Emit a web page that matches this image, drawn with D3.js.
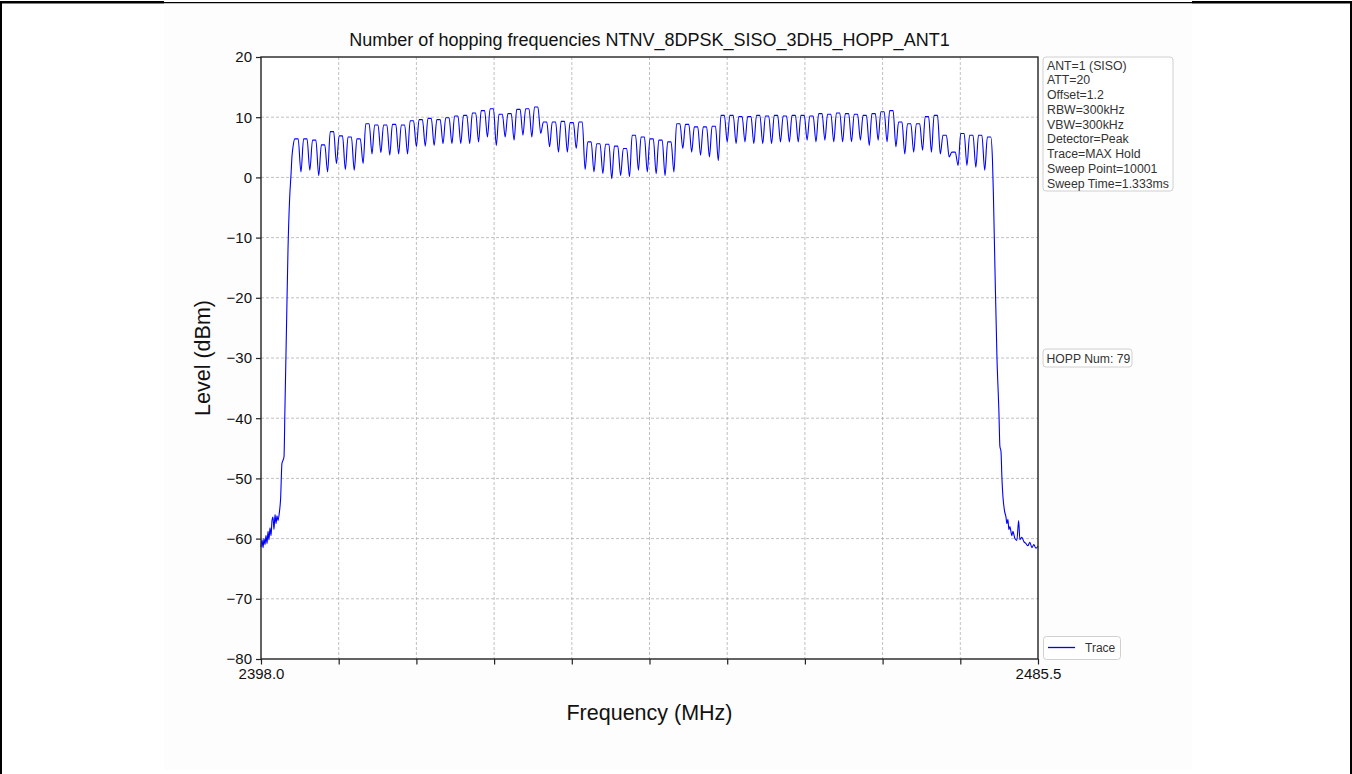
<!DOCTYPE html>
<html><head><meta charset="utf-8">
<script src="https://cdn.jsdelivr.net/npm/d3@7"></script>
<style>
html,body{margin:0;padding:0;background:#fff;}
svg{display:block;font-family:"Liberation Sans",Arial,sans-serif;}
</style></head>
<body>
<svg id="chart" width="1352" height="774"></svg>
<script>
// ---- data ----
const title = "Number of hopping frequencies NTNV_8DPSK_SISO_3DH5_HOPP_ANT1";
const xDomain = [2398.0, 2485.5];
const yDomain = [-80, 20];
const yTicks = [20, 10, 0, -10, -20, -30, -40, -50, -60, -70, -80];
const xTickCount = 11;
const xTickLabels = ["2398.0", "", "", "", "", "", "", "", "", "", "2485.5"];
const infoLines = ["ANT=1 (SISO)", "ATT=20", "Offset=1.2", "RBW=300kHz", "VBW=300kHz",
  "Detector=Peak", "Trace=MAX Hold", "Sweep Point=10001", "Sweep Time=1.333ms"];
const hoppLabel = "HOPP Num: 79";
const legendLabel = "Trace";

// channel centres 2402..2480 MHz (79 channels)
const channelStart = 2402;
const channelPeaks = [
  6.4, 6.4, 6.2, 5.4, 7.6, 6.9, 6.7, 6.4, 8.9, 8.7, 8.7, 8.8, 8.7, 9.4, 9.6, 9.8, 9.6, 9.9, 10.2, 10.3,
  10.7, 11.1, 11.4, 10.5, 10.6, 11.3, 11.4, 11.7, 9.2, 9.2, 9.3, 9.1, 9.2, 5.9, 5.6, 5.5, 5.2, 4.8, 7.0, 6.7,
  6.4, 6.2, 5.9, 8.9, 8.8, 8.4, 8.4, 8.5, 10.3, 10.3, 10.1, 10.1, 10.3, 10.2, 10.3, 10.2, 10.3, 10.3, 10.2, 10.6,
  10.5, 10.7, 10.6, 10.5, 10.3, 10.6, 10.9, 11.1, 9.2, 8.9, 8.9, 10.1, 10.3, 7.0, 4.2, 7.3, 7.0, 7.0, 6.7];
// minima between neighbouring channels (78)
const channelDips = [
  0.9, 1.2, 0.3, 0.9, 2.3, 1.3, 1.2, 2.3, 3.9, 4.1, 3.7, 3.9, 3.9, 5.1, 5.2, 5.3, 5.6, 5.6, 5.6, 5.6,
  5.9, 6.7, 5.3, 6.7, 6.2, 7.0, 6.7, 7.3, 5.1, 4.2, 4.2, 4.8, 1.3, 0.9, 0.6, -0.2, 0.3, 0.1, 1.2, 0.9,
  0.6, 0.3, 0.9, 4.8, 4.2, 3.7, 3.4, 2.8, 5.9, 5.6, 5.9, 5.6, 5.6, 5.6, 5.9, 5.9, 5.9, 6.2, 5.9, 6.2,
  5.9, 5.9, 5.9, 6.2, 5.3, 6.2, 5.9, 5.1, 3.9, 4.2, 4.5, 4.2, 3.9, 3.4, 2.0, 2.0, 1.7, 1.2];
// lower band edge skirt
const leftSkirtFreq = [2398.0, 2398.11, 2398.23, 2398.34, 2398.45, 2398.56, 2398.68, 2398.79, 2398.90, 2399.01,
  2399.13, 2399.24, 2399.35, 2399.46, 2399.58, 2399.69, 2399.80, 2399.91, 2400.08, 2400.20, 2400.36, 2400.48,
  2400.59, 2400.70, 2400.87, 2401.04, 2401.21, 2401.38, 2401.49, 2401.60];
const leftSkirtLevel = [-61.4, -60.2, -61.5, -60.0, -61.0, -59.5, -60.8, -58.8, -60.2, -58.2,
  -59.5, -57.0, -56.4, -58.5, -56.0, -57.5, -56.2, -57.0, -55.5, -53.6, -47.5, -47.0,
  -46.4, -38.0, -25.0, -12.0, -4.0, 0.5, 3.5, 5.0];
// upper band edge skirt
const rightSkirtFreq = [2480.37, 2480.48, 2480.65, 2480.88, 2481.10, 2481.21, 2481.33, 2481.44, 2481.55, 2481.72,
  2481.89, 2482.00, 2482.11, 2482.22, 2482.33, 2482.56, 2482.67, 2482.90, 2483.12, 2483.32, 2483.46, 2483.68,
  2483.91, 2484.13, 2484.36, 2484.58, 2484.81, 2485.03, 2485.26, 2485.5];
const rightSkirtLevel = [3.0, -3.0, -15.0, -30.0, -39.0, -44.7, -45.5, -50.0, -53.0, -55.3,
  -56.4, -57.5, -56.8, -58.5, -58.0, -59.5, -58.8, -60.0, -60.3, -57.0, -60.2, -59.8,
  -60.5, -60.8, -61.2, -60.6, -61.5, -61.0, -61.6, -61.3];

// ---- layout ----
const svg = d3.select("#chart");
const plot = {left: 261, right: 1038, top: 57, bottom: 659};
const x = d3.scaleLinear().domain(xDomain).range([plot.left, plot.right]);
const y = d3.scaleLinear().domain(yDomain).range([plot.bottom, plot.top]);

// page frame
svg.append("rect").attr("x", 164).attr("y", 4).attr("width", 1028).attr("height", 766).attr("fill", "#fdfdfd");
svg.append("line").attr("x1", 0).attr("x2", 164).attr("y1", 2.3).attr("y2", 2.3).attr("stroke", "#000").attr("stroke-width", 2.6);
svg.append("line").attr("x1", 164).attr("x2", 1192).attr("y1", 2.6).attr("y2", 2.6).attr("stroke", "#000").attr("stroke-width", 1.2);
svg.append("line").attr("x1", 1192).attr("x2", 1352).attr("y1", 2.3).attr("y2", 2.3).attr("stroke", "#000").attr("stroke-width", 2.6);
svg.append("line").attr("x1", 1).attr("x2", 1).attr("y1", 1).attr("y2", 774).attr("stroke", "#000").attr("stroke-width", 2);
svg.append("line").attr("x1", 1351).attr("x2", 1351).attr("y1", 1).attr("y2", 774).attr("stroke", "#000").attr("stroke-width", 2);

// plot background
svg.append("rect").attr("x", plot.left).attr("y", plot.top)
  .attr("width", plot.right - plot.left).attr("height", plot.bottom - plot.top).attr("fill", "#fff");

// grid
const xTickVals = d3.range(xTickCount).map(i => xDomain[0] + i * (xDomain[1] - xDomain[0]) / (xTickCount - 1));
const grid = svg.append("g").attr("stroke", "#b0b0b0").attr("stroke-width", 0.8).attr("stroke-dasharray", "3,2");
grid.selectAll(".gx").data(xTickVals.slice(1, -1)).join("line")
  .attr("x1", d => x(d)).attr("x2", d => x(d)).attr("y1", plot.top).attr("y2", plot.bottom);
grid.selectAll(".gy").data(yTicks.filter(d => d !== yDomain[0] && d !== yDomain[1])).join("line")
  .attr("x1", plot.left).attr("x2", plot.right).attr("y1", d => y(d)).attr("y2", d => y(d));

// trace points
const pts = [];
leftSkirtFreq.forEach((f, i) => pts.push([f, leftSkirtLevel[i]]));
channelPeaks.forEach((p, i) => {
  const fc = channelStart + i;
  pts.push([fc - 0.2, p]);
  pts.push([fc + 0.18, p]);
  if (i < channelDips.length) pts.push([fc + 0.5, channelDips[i]]);
});
rightSkirtFreq.forEach((f, i) => pts.push([f, rightSkirtLevel[i]]));

svg.append("path").datum(pts)
  .attr("fill", "none").attr("stroke", "#0000ff").attr("stroke-width", 1.1).attr("stroke-linejoin", "round")
  .attr("d", d3.line().curve(d3.curveMonotoneX).x(d => x(d[0])).y(d => y(d[1])));

// axes
const fontTick = "15px";
const xAxis = d3.axisBottom(x).tickValues(xTickVals).tickSize(5.5).tickPadding(4)
  .tickFormat((d, i) => xTickLabels[i]);
const gx = svg.append("g").attr("transform", `translate(0,${plot.bottom})`).call(xAxis);
const yAxis = d3.axisLeft(y).tickValues(yTicks).tickSize(5).tickPadding(4).tickFormat(d3.format("d"));
const gy = svg.append("g").attr("transform", `translate(${plot.left},0)`).call(yAxis);
[gx, gy].forEach(g => {
  g.select(".domain").remove();
  g.selectAll(".tick line").attr("stroke", "#222").attr("stroke-width", 1.2);
  g.selectAll(".tick text").attr("fill", "#111").style("font-size", fontTick).style("font-family", "Liberation Sans, Arial, sans-serif");
});
// spines
svg.append("rect").attr("x", plot.left).attr("y", plot.top)
  .attr("width", plot.right - plot.left).attr("height", plot.bottom - plot.top)
  .attr("fill", "none").attr("stroke", "#222").attr("stroke-width", 1.4);

// title & labels
svg.append("text").attr("x", (plot.left + plot.right) / 2).attr("y", 46).attr("text-anchor", "middle")
  .style("font-size", "18px").attr("fill", "#111").text(title);
svg.append("text").attr("x", (plot.left + plot.right) / 2).attr("y", 720).attr("text-anchor", "middle")
  .style("font-size", "21.5px").attr("fill", "#111").text("Frequency (MHz)");
svg.append("text").attr("transform", `translate(210,${(plot.top + plot.bottom) / 2}) rotate(-90)`)
  .attr("text-anchor", "middle").style("font-size", "21.5px").attr("fill", "#111").text("Level (dBm)");

// info box
const boxStroke = "#d0d0d0";
const info = svg.append("g");
info.append("rect").attr("x", 1043).attr("y", 57).attr("width", 130).attr("height", 134)
  .attr("rx", 3).attr("fill", "#fff").attr("stroke", boxStroke).attr("stroke-width", 1);
info.selectAll("text").data(infoLines).join("text")
  .attr("x", 1047).attr("y", (d, i) => 69.5 + i * 14.75)
  .style("font-size", "12.3px").attr("fill", "#333").text(d => d);

// HOPP box
const hb = svg.append("g");
hb.append("rect").attr("x", 1043).attr("y", 349).attr("width", 89).attr("height", 18)
  .attr("rx", 3).attr("fill", "#fff").attr("stroke", boxStroke).attr("stroke-width", 1);
hb.append("text").attr("x", 1046.5).attr("y", 362.5).style("font-size", "12.2px").attr("fill", "#333").text(hoppLabel);

// legend
const lg = svg.append("g");
lg.append("rect").attr("x", 1043.5).attr("y", 636.5).attr("width", 77).attr("height", 23)
  .attr("rx", 3).attr("fill", "#fff").attr("stroke", boxStroke).attr("stroke-width", 1);
lg.append("line").attr("x1", 1048).attr("x2", 1075).attr("y1", 647.5).attr("y2", 647.5)
  .attr("stroke", "#0000ff").attr("stroke-width", 1.3);
lg.append("text").attr("x", 1085).attr("y", 652).style("font-size", "12px").attr("fill", "#333").text(legendLabel);
</script>
</body></html>
